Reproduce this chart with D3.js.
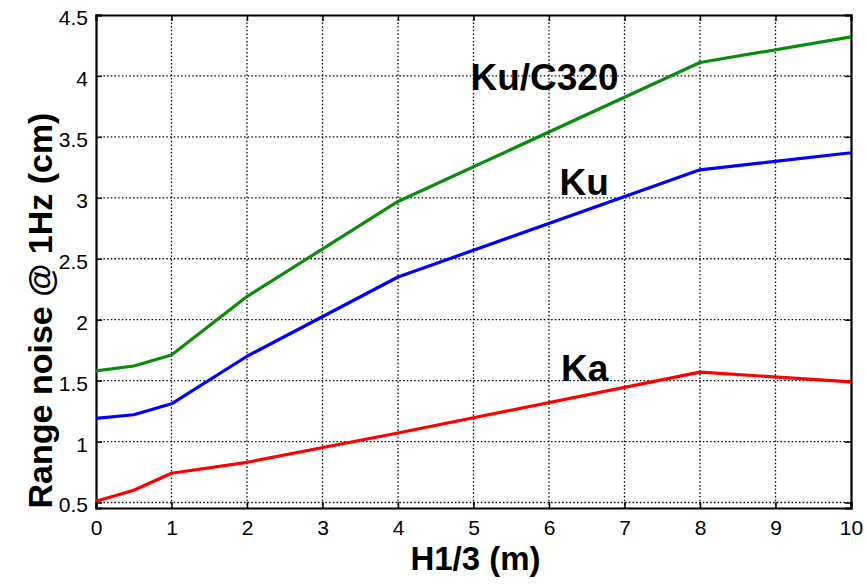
<!DOCTYPE html>
<html>
<head>
<meta charset="utf-8">
<script src="https://cdn.jsdelivr.net/npm/d3@7"></script>
<style>
    body { margin: 0; background: #fff; }
    #chart-area { width: 867px; height: 586px; }
    text { font-family: "Liberation Sans", Arial, Helvetica, sans-serif; }
</style>
</head>
<body>
<div id="chart-area"></div>
<script>

// significant wave height (m)
const waveHeights = [0, 0.5, 1, 2, 4, 8, 10];

// range noise @ 1Hz (cm) per band
const kuC320Noise = [1.58, 1.62, 1.71, 2.19, 2.97, 4.11, 4.32];
const kuNoise = [1.19, 1.22, 1.31, 1.70, 2.35, 3.23, 3.37];
const kaNoise = [0.51, 0.60, 0.74, 0.83, 1.07, 1.57, 1.49];

const seriesNames = ["Ku/C320", "Ku", "Ka"];

const xTickValues = [0, 1, 2, 3, 4, 5, 6, 7, 8, 9, 10];
const yTickValues = [0.5, 1, 1.5, 2, 2.5, 3, 3.5, 4, 4.5];


class LineChart {

    constructor(parentElement, config) {
        this.parentElement = parentElement;
        this.config = config;
        this.lineColors = ['#0b8a0b', '#0000ff', '#ff0000'];

        this.initVis();
    }

    /*
     * axes, grid, titles
     */
    initVis() {
        let vis = this;

        vis.margin = {top: 15, right: 16, bottom: 78, left: 96};
        vis.width = 867 - vis.margin.left - vis.margin.right;
        vis.height = 586 - vis.margin.top - vis.margin.bottom;

        vis.svg = d3.select("#" + vis.parentElement).append("svg")
            .attr("width", vis.width + vis.margin.left + vis.margin.right)
            .attr("height", vis.height + vis.margin.top + vis.margin.bottom)
            .append("g")
            .attr("transform", "translate(" + vis.margin.left + "," + vis.margin.top + ")");

        vis.x = d3.scaleLinear()
            .domain([0, 10])
            .range([0, vis.width]);

        vis.y = d3.scaleLinear()
            .domain([0.455, 4.5])
            .range([vis.height, 0]);

        // dotted grid
        vis.svg.append("g")
            .attr("class", "grid")
            .selectAll(".vgrid")
            .data(xTickValues.filter(d => d > 0 && d < 10))
            .enter()
            .append("line")
            .attr("x1", d => vis.x(d))
            .attr("x2", d => vis.x(d))
            .attr("y1", 0)
            .attr("y2", vis.height);

        vis.svg.select(".grid")
            .selectAll(".hgrid")
            .data(yTickValues.filter(d => d < 4.5))
            .enter()
            .append("line")
            .attr("x1", 0)
            .attr("x2", vis.width)
            .attr("y1", d => vis.y(d))
            .attr("y2", d => vis.y(d));

        vis.svg.selectAll(".grid line")
            .attr("stroke", "#000")
            .attr("stroke-width", 1.3)
            .attr("stroke-dasharray", "1.5,2.2");

        // axes (ticks pointing inward, box on all sides)
        vis.xAxis = d3.axisBottom(vis.x)
            .tickValues(xTickValues)
            .tickSize(-6)
            .tickPadding(12)
            .tickFormat(d3.format("d"));

        vis.yAxis = d3.axisLeft(vis.y)
            .tickValues(yTickValues)
            .tickSize(-6)
            .tickPadding(8)
            .tickFormat(d => d);

        vis.svg.append("g")
            .attr("class", "axis x-axis")
            .attr("transform", "translate(0," + vis.height + ")")
            .call(vis.xAxis);

        vis.svg.append("g")
            .attr("class", "axis y-axis")
            .call(vis.yAxis);

        vis.svg.append("g")
            .attr("class", "axis")
            .call(d3.axisTop(vis.x).tickValues(xTickValues).tickSize(-6).tickFormat(""));

        vis.svg.append("g")
            .attr("class", "axis")
            .attr("transform", "translate(" + vis.width + ",0)")
            .call(d3.axisRight(vis.y).tickValues(yTickValues).tickSize(-6).tickFormat(""));

        vis.svg.selectAll(".axis path")
            .attr("stroke", "#000")
            .attr("stroke-width", 2.2);
        vis.svg.selectAll(".axis line")
            .attr("stroke", "#000")
            .attr("stroke-width", 1.5);
        vis.svg.selectAll(".axis text")
            .attr("fill", "#000")
            .style("font-size", "21px")
            .style("font-family", "'Liberation Sans', Arial, sans-serif");
        vis.svg.selectAll(".y-axis text")
            .attr("dy", "0.45em");

        // axis titles
        vis.svg.append("text")
            .attr("class", "x-title")
            .attr("x", vis.width / 2 + 2)
            .attr("y", vis.height + 62)
            .attr("text-anchor", "middle")
            .style("font-size", "33px")
            .style("font-weight", "bold")
            .text("H1/3 (m)");

        vis.svg.append("text")
            .attr("class", "y-title")
            .attr("transform", "translate(" + (-44) + "," + (vis.height / 2 + 49) + ") rotate(-90)")
            .attr("text-anchor", "middle")
            .style("font-size", "34px")
            .style("font-weight", "bold")
            .text("Range noise @ 1Hz (cm)");

        vis.line = d3.line()
            .x(d => vis.x(d.h))
            .y(d => vis.y(d.v));

        vis.wrangleData();
    }

    wrangleData() {
        let vis = this;

        let allNoise = [kuC320Noise, kuNoise, kaNoise];

        vis.displayData = seriesNames.map((name, i) => ({
            name: name,
            color: vis.lineColors[i],
            label: vis.config.labels[i],
            values: waveHeights.map((h, j) => ({h: h, v: allNoise[i][j]}))
        }));

        vis.updateVis();
    }

    updateVis() {
        let vis = this;

        vis.svg.selectAll(".series-line")
            .data(vis.displayData)
            .enter()
            .append("path")
            .attr("class", "series-line")
            .attr("d", d => vis.line(d.values))
            .attr("fill", "none")
            .attr("stroke", d => d.color)
            .attr("stroke-width", 3.2)
            .attr("stroke-linejoin", "round");

        vis.svg.selectAll(".series-label")
            .data(vis.displayData)
            .enter()
            .append("text")
            .attr("class", "series-label")
            .attr("x", d => vis.x(d.label[0]))
            .attr("y", d => vis.y(d.label[1]))
            .style("font-size", "37px")
            .style("font-weight", "bold")
            .text(d => d.name);
    }
}

let rangeNoiseChart = new LineChart("chart-area", {
    // label anchor points in data units
    labels: [[4.96, 3.885], [6.14, 3.02], [6.16, 1.495]]
});

</script>
</body>
</html>
